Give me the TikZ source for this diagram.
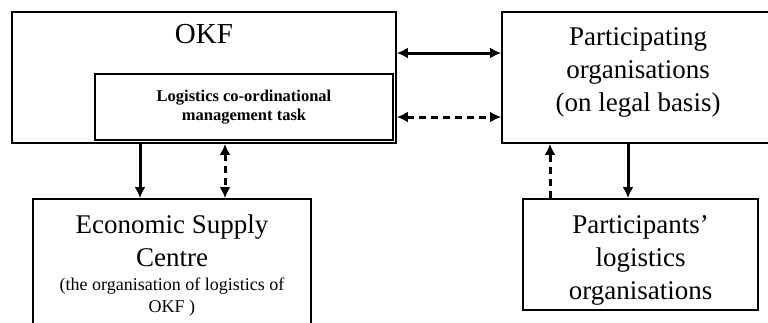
\documentclass[tikz,border=0pt]{standalone}
\usepackage{fontspec}
\setmainfont{Liberation Serif}
\usetikzlibrary{arrows.meta}

\begin{document}
\begin{tikzpicture}[x=1pt, y=-1pt,
    box/.style={draw, line width=1.8pt, inner sep=0pt, align=center},
    bigtext/.style={font=\fontsize{27}{33}\selectfont},
    link/.style={line width=3pt, >={Latex[length=11pt,width=11pt]}},
    dashlink/.style={link, dash pattern=on 7pt off 5pt}]
      \useasboundingbox (0,0) rectangle (768,322);

      % top row
      \node[box, minimum width=384pt, minimum height=131pt,
            label={[anchor=north, inner sep=0pt, yshift=-13pt, font=\fontsize{29}{32}\selectfont]north:OKF}]
            (okf) at (204,77.5) {};
      \node[box, minimum width=298pt, minimum height=66pt, font=\bfseries\fontsize{16.5}{19}\selectfont]
            (task) at (244,107) {Logistics co-ordinational\\management task};
      \node[box, bigtext, minimum width=272pt, minimum height=131pt]
            (part) at (638,77.5) {Participating\\organisations\\(on legal basis)\rule[-16pt]{0pt}{16pt}};

      % bottom row
      \node[box, bigtext, minimum width=278pt, minimum height=134pt]
            (esc) at (172,266) {Economic Supply\\Centre\\[-9pt]\fontsize{18}{20}\selectfont(the organisation of logistics of\\[-11pt]\fontsize{18}{20}\selectfont OKF )};
      \node[box, bigtext, minimum width=235pt, minimum height=111pt]
            (plog) at (640.5,254.5) {\rule{0pt}{30pt}Participants'\\logistics\\organisations};

      % links
      \draw[link, <->] ([yshift=24.5pt]okf.east) -- ([yshift=24.5pt]part.west);
      \draw[dashlink, <->] ([yshift=-39.5pt]okf.east) -- ([yshift=-39.5pt]part.west);
      \draw[link, ->] ([xshift=-64pt]okf.south) -- ([xshift=-32pt]esc.north);
      \draw[dashlink, <->] ([xshift=21pt]okf.south) -- ([xshift=53pt]esc.north);
      \draw[link, ->] ([xshift=-10pt]part.south) -- ([xshift=-12.5pt]plog.north);
      \draw[dashlink, ->] ([xshift=-90.5pt]plog.north) -- ([xshift=-88pt]part.south);
\end{tikzpicture}
\end{document}
